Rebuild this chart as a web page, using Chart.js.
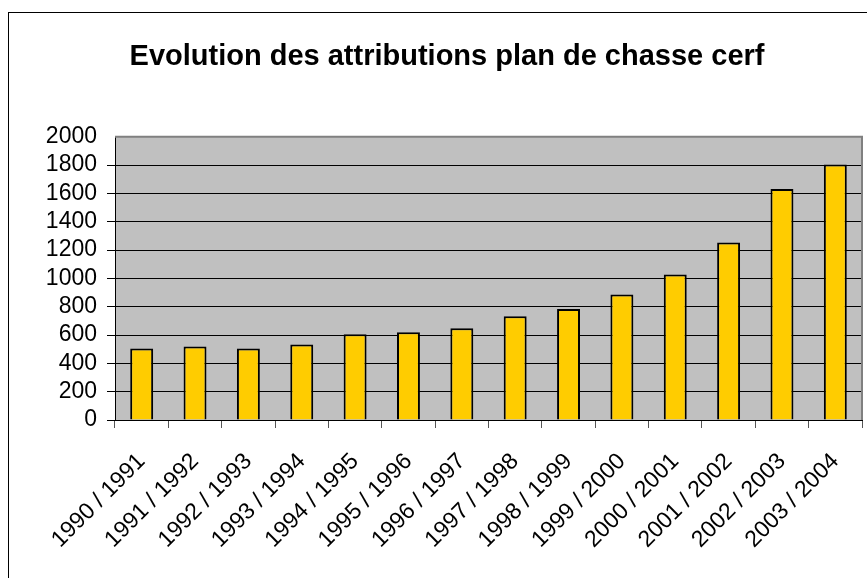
<!DOCTYPE html>
<html>
<head>
<meta charset="utf-8">
<script src="https://cdn.jsdelivr.net/npm/chart.js@4"></script>
<style>
  html, body { margin: 0; padding: 0; background: #fff; }
  #wrap { width: 867px; height: 578px; }
</style>
</head>
<body>
<div id="wrap"><canvas id="chart" width="867" height="578"></canvas></div>
<script>
// Data
const seasons = ['1990 / 1991', '1991 / 1992', '1992 / 1993', '1993 / 1994', '1994 / 1995',
                 '1995 / 1996', '1996 / 1997', '1997 / 1998', '1998 / 1999', '1999 / 2000',
                 '2000 / 2001', '2001 / 2002', '2002 / 2003', '2003 / 2004'];
const attributions = [505, 519, 505, 533, 606, 620, 648, 732, 784, 887, 1028, 1254, 1632, 1805];
const chartTitle = 'Evolution des attributions plan de chasse cerf';
const yMin = 0, yMax = 2000, yStep = 200;

const FONT = "Arial, 'Liberation Sans', sans-serif";

// grey plot area, grey top/right border, outer frame
const frame = {
    id: 'frame',
    beforeDraw(chart) {
        const { ctx, chartArea: a } = chart;
        ctx.save();
        ctx.strokeStyle = '#000';
        ctx.lineWidth = 1;
        ctx.strokeRect(8.5, 12.5, 1000, 1000);
        ctx.fillStyle = '#c0c0c0';
        ctx.fillRect(a.left, a.top, a.right - a.left, a.bottom - a.top);
        ctx.restore();
    },
    beforeDatasetsDraw(chart) {
        const { ctx, chartArea: a } = chart;
        ctx.save();
        ctx.strokeStyle = '#808080';
        ctx.lineWidth = 2;
        ctx.beginPath();
        ctx.moveTo(a.left, a.top);
        ctx.lineTo(a.right, a.top);
        ctx.lineTo(a.right, a.bottom);
        ctx.stroke();
        ctx.restore();
    }
};

new Chart(document.getElementById('chart'), {
    type: 'bar',
    data: {
        labels: seasons,
        datasets: [{
            data: attributions,
            backgroundColor: '#ffcc00',
            borderColor: '#000',
            borderWidth: 2,
            barPercentage: 0.43,
            categoryPercentage: 1
        }]
    },
    options: {
        responsive: false,
        animation: false,
        layout: { padding: { left: 32, right: 5, top: 0, bottom: 0 } },
        plugins: {
            legend: { display: false },
            tooltip: { enabled: false },
            title: {
                display: true,
                text: chartTitle,
                color: '#000',
                font: { family: FONT, size: 29, weight: 'bold' },
                padding: { top: 40, bottom: 62 }
            }
        },
        scales: {
            x: {
                afterFit(scale) {
                    scale.height = 158;
                    scale.paddingRight = 0;
                    scale.paddingLeft = 0;
                },
                grid: { drawOnChartArea: false, color: '#555', tickLength: 8 },
                border: { color: '#000', width: 1 },
                ticks: {
                    autoSkip: false,
                    minRotation: 45,
                    maxRotation: 45,
                    padding: 20,
                    color: '#000',
                    font: { family: FONT, size: 23 }
                }
            },
            y: {
                min: yMin,
                max: yMax,
                afterFit(scale) { scale.width = 83; },
                grid: {
                    color: (c) => c.tick && c.tick.value === yMax ? 'rgba(0,0,0,0)' : '#000',
                    tickLength: 8
                },
                border: { color: '#000', width: 1 },
                ticks: {
                    stepSize: yStep,
                    autoSkip: false,
                    padding: 10,
                    color: '#000',
                    font: { family: FONT, size: 23 },
                    callback: (v) => String(v)
                }
            }
        }
    },
    plugins: [frame]
});
</script>
</body>
</html>
